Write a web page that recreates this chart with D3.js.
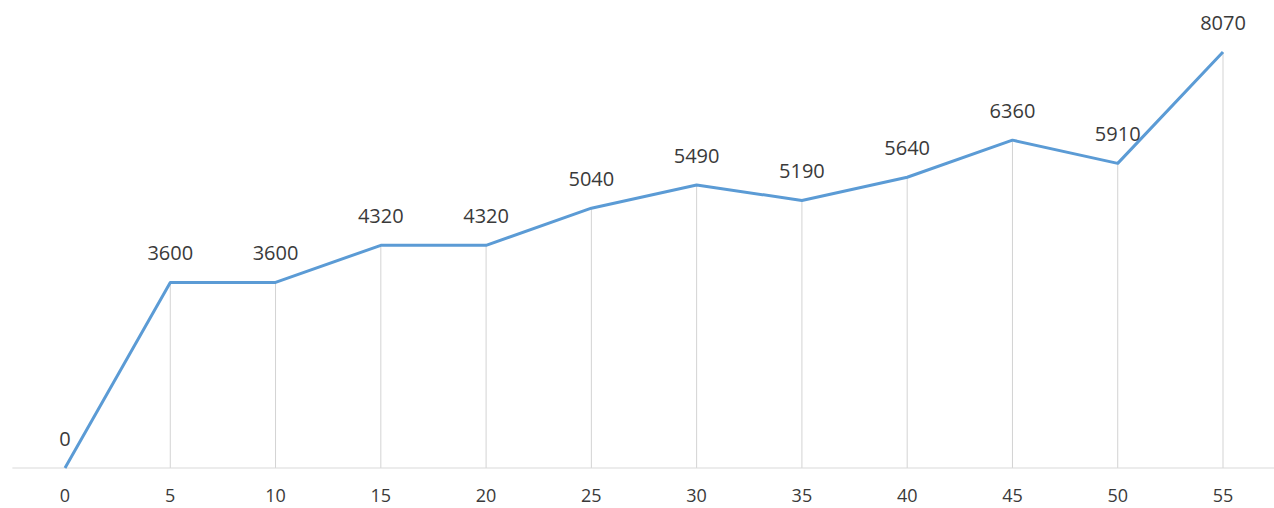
<!DOCTYPE html>
<html>
<head>
<meta charset="utf-8">
<script src="https://cdn.jsdelivr.net/npm/d3@7"></script>
<style>
  body { margin: 0; background: #fff; }
  text { font-family: "Open Sans", "Noto Sans", sans-serif; fill: #3a3a3a; }
</style>
</head>
<body>
<svg id="chart"></svg>
<script>
const categories = [0, 5, 10, 15, 20, 25, 30, 35, 40, 45, 50, 55]
const values = [0, 3600, 3600, 4320, 4320, 5040, 5490, 5190, 5640, 6360, 5910, 8070]

const width = 1274
const height = 508
const svg = d3.select("#chart").attr("width", width).attr("height", height)

// point positions: first category at 65px, last at 1223px
const x = d3.scalePoint()
    .domain(categories)
    .range([65, 1223])
const step = x.step()

const y = d3.scaleLinear()
    .domain([0, 8070])
    .range([468, 52])

// drop lines
svg.append("g")
  .selectAll("line")
  .data(categories.slice(1))
  .join("line")
    .attr("x1", d => x(d)).attr("x2", d => x(d))
    .attr("y1", (d, i) => y(values[i + 1]))
    .attr("y2", y(0))
    .attr("stroke", "#d3d3d3")
    .attr("stroke-width", 1)

// baseline
svg.append("line")
    .attr("x1", x(0) - step / 2)
    .attr("x2", x(55) + step / 2)
    .attr("y1", y(0)).attr("y2", y(0))
    .attr("stroke", "#d9d9d9")
    .attr("stroke-width", 1.2)

// series line
const line = d3.line()
    .x((d, i) => x(categories[i]))
    .y(d => y(d))

svg.append("path")
    .datum(values)
    .attr("d", line)
    .attr("fill", "none")
    .attr("stroke", "#5b9bd5")
    .attr("stroke-width", 3)
    .attr("stroke-linejoin", "round")

// data labels
svg.append("g")
  .selectAll("text")
  .data(values)
  .join("text")
    .attr("x", (d, i) => x(categories[i]))
    .attr("y", d => y(d) - 22)
    .attr("text-anchor", "middle")
    .style("font-size", "20px")
    .text(d => d)

// category labels
svg.append("g")
  .selectAll("text")
  .data(categories)
  .join("text")
    .attr("x", d => x(d))
    .attr("y", 502)
    .attr("text-anchor", "middle")
    .style("font-size", "18px")
    .text(d => d)
</script>
</body>
</html>
